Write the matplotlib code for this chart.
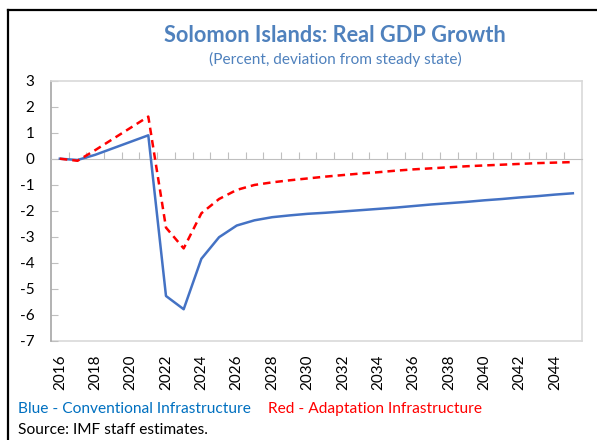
import numpy as np
import matplotlib.pyplot as plt
from matplotlib.lines import Line2D

years = list(range(2016, 2046))
conventional = [0.0, -0.05, 0.15, 0.4, 0.65, 0.9, -5.28, -5.79, -3.85, -3.02,
                -2.57, -2.37, -2.25, -2.18, -2.12, -2.08, -2.03, -1.98, -1.93, -1.88,
                -1.82, -1.76, -1.71, -1.66, -1.60, -1.55, -1.49, -1.44, -1.38, -1.33]
adaptation = [0.0, -0.08, 0.33, 0.76, 1.19, 1.62, -2.65, -3.45, -2.1, -1.55,
              -1.2, -1.01, -0.91, -0.83, -0.76, -0.69, -0.63, -0.57, -0.52, -0.46,
              -0.41, -0.37, -0.33, -0.29, -0.26, -0.23, -0.20, -0.17, -0.15, -0.13]
yticks = list(range(-7, 4))

plt.rcParams['font.family'] = ['Lato', 'DejaVu Sans']

fig = plt.figure(figsize=(5.97, 4.40), dpi=100)
ax = fig.add_axes([51 / 597, 1 - 340.7 / 440, 530.7 / 597, 260 / 440])

x = np.arange(len(years))
ax.plot(x, conventional, color='#4472C4', lw=1.8, zorder=3)
ax.plot(x, adaptation, color='#FF0000', lw=1.8, ls=(0, (3, 2)), zorder=4)

ax.set_xlim(-0.5, len(years) - 0.5)
ax.set_ylim(-7, 3)
ax.set_yticks(yticks)
ax.set_yticklabels([str(v) for v in yticks], fontsize=11)
ax.tick_params(axis='y', direction='in', length=5, color='#BFBFBF', pad=12)

# category axis crossing at zero with tick marks between categories
ax.spines['bottom'].set_position(('data', 0))
ax.spines['bottom'].set_color('#BFBFBF')
ax.set_xticks(np.arange(0.5, len(years) - 0.5, 1))
ax.tick_params(axis='x', direction='in', length=5, color='#BFBFBF', labelbottom=False)

ax.spines['left'].set_color('#A6A6A6')
ax.spines['left'].set_linewidth(1.2)
for s in ['top', 'right']:
    ax.spines[s].set_color('#D9D9D9')
    ax.spines[s].set_linewidth(1.2)

sec = ax.secondary_xaxis('bottom')
sec.set_xticks(x[::2])
sec.set_xticklabels([str(y) for y in years[::2]], rotation=90, fontsize=11)
sec.tick_params(length=0, pad=10)
sec.spines['bottom'].set_color('#D9D9D9')
sec.spines['bottom'].set_linewidth(1.2)

fig.text(335 / 597, 1 - 36 / 440, 'Solomon Islands: Real GDP Growth', ha='center', va='center',
         fontsize=15.7, fontweight='bold', color='#4F81BD')
fig.text(335 / 597, 1 - 59 / 440, '(Percent, deviation from steady state)', ha='center', va='center',
         fontsize=11.1, color='#4F81BD')
fig.text(18 / 597, 1 - 409 / 440, 'Blue - Conventional Infrastructure', ha='left', va='center',
         fontsize=11.2, color='#0070C0')
fig.text(268 / 597, 1 - 409 / 440, 'Red - Adaptation Infrastructure', ha='left', va='center',
         fontsize=11.2, color='#FF0000')
fig.text(18 / 597, 1 - 430 / 440, 'Source: IMF staff estimates.', ha='left', va='center',
         fontsize=11.2, color='black')

# outer border
fig.add_artist(Line2D([8 / 597, 8 / 597], [0, 1 - 10 / 440], color='black', lw=1.6))
fig.add_artist(Line2D([8 / 597, 1], [1 - 10 / 440, 1 - 10 / 440], color='black', lw=1.6))

fig.savefig('out.png', dpi=100)
